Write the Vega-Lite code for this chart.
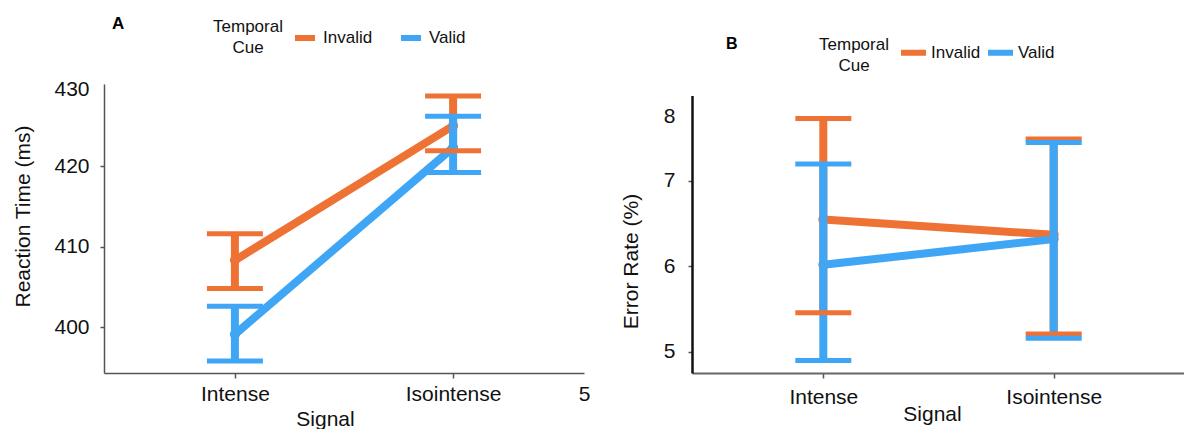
{
  "$schema": "https://vega.github.io/schema/vega-lite/v6.json",
  "background": "white",
  "padding": {"left": 12, "top": 15, "right": 0, "bottom": 0},
  "config": {
    "view": {"stroke": null},
    "font": "Liberation Sans",
    "axis": {"grid": false, "labelFontSize": 21, "titleFontSize": 21, "titleFontWeight": "normal", "labelColor": "#111", "titleColor": "#111", "tickSize": 5, "labelFont": "Liberation Sans", "titleFont": "Liberation Sans"},
    "legend": {"labelFontSize": 17, "titleFontSize": 17, "titleFontWeight": "normal", "labelColor": "#111", "titleColor": "#111", "symbolType": "stroke", "symbolStrokeWidth": 6, "direction": "horizontal", "orient": "none", "titleOrient": "left", "labelFont": "Liberation Sans", "titleFont": "Liberation Sans"},
    "title": {"fontWeight": "bold", "color": "#000", "anchor": "start", "frame": "group", "font": "Liberation Sans"}
  },
  "datasets": {
    "rt": [
      {"signal": "Intense", "cue": "Invalid", "mean": 408.3, "lower": 404.8, "upper": 411.6},
      {"signal": "Isointense", "cue": "Invalid", "mean": 425.0, "lower": 421.9, "upper": 428.7},
      {"signal": "Intense", "cue": "Valid", "mean": 399.1, "lower": 395.8, "upper": 402.6},
      {"signal": "Isointense", "cue": "Valid", "mean": 422.3, "lower": 419.2, "upper": 426.2}
    ],
    "er": [
      {"signal": "Intense", "cue": "Invalid", "mean": 6.55, "lower": 5.46, "upper": 7.73},
      {"signal": "Isointense", "cue": "Invalid", "mean": 6.37, "lower": 5.21, "upper": 7.49},
      {"signal": "Intense", "cue": "Valid", "mean": 6.02, "lower": 4.90, "upper": 7.20},
      {"signal": "Isointense", "cue": "Valid", "mean": 6.32, "lower": 5.16, "upper": 7.45}
    ]
  },
  "spacing": 108,
  "bounds": "flush",
  "resolve": {"scale": {"x": "independent", "y": "independent", "color": "independent"}, "legend": {"color": "independent"}},
  "hconcat": [
    {
      "width": 480,
      "height": 289,
      "title": {"text": "A", "fontSize": 17, "dx": 8, "dy": 12},
      "resolve": {"scale": {"x": "independent"}, "axis": {"x": "independent"}},
      "layer": [
        {
          "data": {"name": "rt"},
          "encoding": {
            "x": {"field": "signal", "type": "nominal", "sort": ["Intense", "Isointense"], "scale": {"type": "point", "padding": 0.6},
              "axis": {"title": "Signal", "labelAngle": 0, "labelPadding": 5, "titlePadding": 4, "titleX": 221, "domainColor": "#555", "domainWidth": 1.5, "tickColor": "#555", "tickWidth": 1.5}},
            "color": {"field": "cue", "type": "nominal", "scale": {"domain": ["Invalid", "Valid"], "range": ["#EE7234", "#3FA5F5"]},
              "legend": {"title": ["Temporal", "Cue"], "legendX": 109, "legendY": -59, "titleAlign": "center", "titleAnchor": "middle", "titleBaseline": "middle", "titleLineHeight": 21, "titlePadding": -26, "symbolSize": 400, "labelOffset": 5, "columnPadding": 16}}
          },
          "layer": [
            {"mark": {"type": "line", "strokeWidth": 8},
             "encoding": {"y": {"field": "mean", "type": "quantitative", "scale": {"domain": [394.3, 430.2], "nice": false, "zero": false},
               "axis": {"title": "Reaction Time (ms)", "values": [400, 410, 420, 430], "format": "d", "tickSize": 4, "labelPadding": 11, "titlePadding": 20, "titleY": 132, "domainColor": "#555", "domainWidth": 1.5, "tickColor": "#555", "tickWidth": 1.5,
                 "tickOpacity": {"condition": {"test": "datum.value == 430", "value": 0}, "value": 1},
                 "labelOffset": {"condition": {"test": "datum.value == 430", "value": 4}, "value": 0}}}}},
            {"mark": {"type": "point", "filled": true, "size": 100, "opacity": 1}, "encoding": {"y": {"field": "mean", "type": "quantitative"}}},
            {"mark": {"type": "rule", "strokeWidth": 8}, "encoding": {"y": {"field": "lower", "type": "quantitative"}, "y2": {"field": "upper"}}},
            {"mark": {"type": "tick", "size": 56, "thickness": 5, "opacity": 1}, "encoding": {"y": {"field": "lower", "type": "quantitative"}}},
            {"mark": {"type": "tick", "size": 56, "thickness": 5, "opacity": 1}, "encoding": {"y": {"field": "upper", "type": "quantitative"}}}
          ]
        },
        {
          "data": {"values": [{}]},
          "mark": {"type": "rule", "opacity": 0},
          "encoding": {"x": {"datum": 5, "type": "quantitative", "scale": {"domain": [0, 5], "nice": false, "zero": false},
            "axis": {"orient": "bottom", "values": [5], "format": "d", "title": null, "domain": false, "ticks": false, "labelFlush": false, "labelPadding": 10}}}
        }
      ]
    },
    {
      "width": 493,
      "height": 289,
      "title": {"text": "B", "fontSize": 16, "dx": 34, "dy": 19},
      "data": {"name": "er"},
      "encoding": {
        "x": {"field": "signal", "type": "nominal", "sort": ["Intense", "Isointense"], "scale": {"type": "point", "padding": 0.57},
          "axis": {"title": "Signal", "labelAngle": 0, "labelPadding": 8, "titlePadding": -4, "titleX": 240, "domainColor": "#666", "domainWidth": 2, "tickColor": "#555", "tickWidth": 1.5}},
        "color": {"field": "cue", "type": "nominal", "scale": {"domain": ["Invalid", "Valid"], "range": ["#EE7234", "#3FA5F5"]},
          "legend": {"title": ["Temporal", "Cue"], "legendX": 127, "legendY": -47, "titleAlign": "center", "titleAnchor": "start", "titleBaseline": "top", "titleLineHeight": 21, "titlePadding": -26, "symbolSize": 625, "labelOffset": 2, "columnPadding": -5}}
      },
      "layer": [
        {"mark": {"type": "line", "strokeWidth": 8},
         "encoding": {"y": {"field": "mean", "type": "quantitative", "scale": {"domain": [4.754, 8], "range": [289, 11.5], "nice": false, "zero": false},
           "axis": {"title": "Error Rate (%)", "values": [5, 6, 7, 8], "format": "d", "tickSize": 4, "labelPadding": 13, "titlePadding": 22, "titleY": 177, "domainColor": "#111", "domainWidth": 2.5, "tickColor": "#555", "tickWidth": 1.5,
             "tickOpacity": {"condition": {"test": "datum.value == 8", "value": 0}, "value": 1},
             "labelOffset": {"condition": {"test": "datum.value == 8", "value": 21}, "value": 0}}}}},
        {"mark": {"type": "point", "filled": true, "size": 100, "opacity": 1}, "encoding": {"y": {"field": "mean", "type": "quantitative"}}},
        {"mark": {"type": "rule", "strokeWidth": 8}, "encoding": {"y": {"field": "lower", "type": "quantitative"}, "y2": {"field": "upper"}}},
        {"mark": {"type": "tick", "size": 56, "thickness": 5, "opacity": 1}, "encoding": {"y": {"field": "lower", "type": "quantitative"}}},
        {"mark": {"type": "tick", "size": 56, "thickness": 5, "opacity": 1}, "encoding": {"y": {"field": "upper", "type": "quantitative"}}}
      ]
    }
  ]
}
